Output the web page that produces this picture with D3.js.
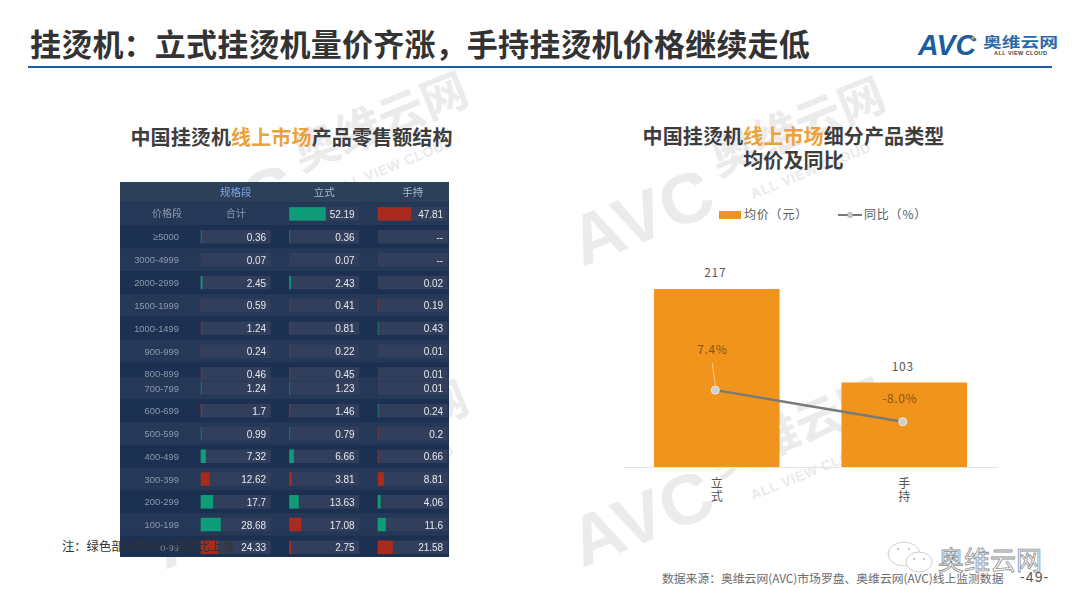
<!DOCTYPE html>
<html>
<head>
<meta charset="utf-8">
<script src="https://cdn.jsdelivr.net/npm/d3@7"></script>
<style>
    body { margin: 0; background: white; }
    text { font-family: "Noto Sans CJK SC", "Noto Sans", sans-serif; }
</style>
</head>
<body>
<div id="chart"></div>
<script>
// Tabel: prisbånd og værdier
const tableHeader = ["规格段", "立式", "手持"];
const priceBands = ["价格段", "≥5000", "3000-4999", "2000-2999", "1500-1999", "1000-1499", "900-999", "800-899",
    "700-799", "600-699", "500-599", "400-499", "300-399", "200-299", "100-199", "0-99"];
const totalValues = [null, 0.36, 0.07, 2.45, 0.59, 1.24, 0.24, 0.46, 1.24, 1.7, 0.99, 7.32, 12.62, 17.7, 28.68, 24.33];
const standingValues = [52.19, 0.36, 0.07, 2.43, 0.41, 0.81, 0.22, 0.45, 1.23, 1.46, 0.79, 6.66, 3.81, 13.63, 17.08, 2.75];
const handheldValues = [47.81, null, null, 0.02, 0.19, 0.43, 0.01, 0.01, 0.01, 0.24, 0.2, 0.66, 8.81, 4.06, 11.6, 21.58];
// u = grøn (op), d = rød (ned), n = ingen farve
const totalTrend = ["n", "u", "n", "u", "d", "d", "d", "d", "u", "d", "u", "u", "d", "u", "u", "d"];
const standingTrend = ["u", "u", "n", "u", "d", "d", "d", "d", "u", "d", "u", "u", "d", "u", "d", "d"];
const handheldTrend = ["d", "n", "n", "n", "d", "u", "n", "n", "n", "u", "d", "d", "d", "u", "u", "d"];

// Søjler og linje til højre
const productTypes = ["立式", "手持"];
const avgPrices = [217, 103];
const yoyChanges = [7.4, -8.0];

const svg = d3.select("#chart")
    .append("svg")
    .attr("width", 1080)
    .attr("height", 608);

// Vandmærker bagerst
function drawWatermark(x, y) {
    const g = svg.append("g")
        .attr("transform", `translate(${x},${y}) rotate(-22)`)
        .attr("fill", "#ebebeb");
    g.append("text").text("AVC")
        .attr("font-size", 70).attr("font-weight", 700)
        .attr("textLength", 148).attr("lengthAdjust", "spacingAndGlyphs")
        .style("font-family", "Liberation Sans");
    g.append("circle").attr("cx", 137).attr("cy", -40).attr("r", 5.5);
    g.append("text").text("奥维云网")
        .attr("x", 160).attr("y", -33)
        .attr("font-size", 46).attr("font-weight", 700);
    g.append("text").text("ALL VIEW CLOUD")
        .attr("x", 184).attr("y", 1)
        .attr("font-size", 14).attr("font-weight", 700)
        .attr("textLength", 128)
        .style("font-family", "Liberation Sans");
}
drawWatermark(582, 267);
drawWatermark(582, 568);
drawWatermark(165, 262);
drawWatermark(165, 570);

// Titel og logo
svg.append("text").text("挂烫机：立式挂烫机量价齐涨，手持挂烫机价格继续走低")
    .attr("x", 30).attr("y", 56)
    .attr("font-size", 31).attr("letter-spacing", 0.2).attr("font-weight", 700).attr("fill", "#333333");
svg.append("line")
    .attr("x1", 28).attr("x2", 1052).attr("y1", 67).attr("y2", 67)
    .attr("stroke", "#1b5e9f").attr("stroke-width", 2);
svg.append("text").text("AVC")
    .attr("x", 918).attr("y", 55)
    .attr("font-size", 29).attr("font-weight", 700).attr("font-style", "italic").attr("fill", "#1b5e9f")
    .attr("textLength", 58).attr("lengthAdjust", "spacingAndGlyphs")
    .style("font-family", "Liberation Sans");
svg.append("circle").attr("cx", 973).attr("cy", 38).attr("r", 1.6).attr("fill", "#f0a030");
svg.append("text").text("奥维云网")
    .attr("x", 983).attr("y", 46.5)
    .attr("font-size", 14).attr("font-weight", 700).attr("fill", "#2a6aa8")
    .attr("textLength", 75).attr("lengthAdjust", "spacingAndGlyphs");
svg.append("text").text("ALL VIEW CLOUD")
    .attr("x", 994).attr("y", 55)
    .attr("font-size", 5.5).attr("font-weight", 700).attr("fill", "#444444")
    .attr("textLength", 53)
    .style("font-family", "Liberation Sans");

// Undertitler med orange fremhævning
function drawTitle(parts, x, y) {
    const t = svg.append("text")
        .attr("x", x).attr("y", y)
        .attr("text-anchor", "middle")
        .attr("font-size", 20).attr("letter-spacing", 0.13).attr("font-weight", 700).attr("fill", "#3d3d3d");
    parts.forEach(function (p, i) {
        t.append("tspan").text(p).attr("fill", i == 1 ? "#eba23a" : "#3d3d3d");
    });
}
drawTitle(["中国挂烫机", "线上市场", "产品零售额结构"], 291.5, 145);
drawTitle(["中国挂烫机", "线上市场", "细分产品类型"], 793.5, 144);
drawTitle(["均价及同比"], 793.5, 168);

// ---- Tabellen ----
// Tabellen er to sammensatte billeder, så 700-799 starter en ny rytme
const splitAt = priceBands.indexOf("700-799");
const yUpper = d3.scaleBand().domain(priceBands.slice(0, splitAt)).range([202.5, 385.4]);
const yLower = d3.scaleBand().domain(priceBands.slice(splitAt)).range([376.6, 558.6]);
const rowY = band => priceBands.indexOf(band) < splitAt ? yUpper(band) : yLower(band);
const rowStep = yUpper.bandwidth();

const columnKeys = ["total", "standing", "handheld"];
const columnX = d3.scaleBand().domain(columnKeys).range([200.7, 447.7]).paddingInner(0.209);
const shareX = d3.scaleLinear().domain([0, 100]).range([0, columnX.bandwidth()]);
const columns = {
    total: { values: totalValues, trend: totalTrend },
    standing: { values: standingValues, trend: standingTrend },
    handheld: { values: handheldValues, trend: handheldTrend }
};

svg.append("clipPath").attr("id", "tableClip")
    .append("rect").attr("x", 120).attr("y", 182).attr("width", 329).attr("height", 375);
const table = svg.append("g")
    .attr("clip-path", "url(#tableClip)")
    .style("filter", "blur(0.4px)");

table.append("rect")
    .attr("x", 120).attr("y", 182).attr("width", 329).attr("height", 375)
    .attr("fill", "#1e3252");
table.append("rect")
    .attr("x", 120).attr("y", 182).attr("width", 329).attr("height", 20)
    .attr("fill", "#2d4059");

table.selectAll(".rowBg")
    .data(priceBands)
    .enter()
    .append("rect")
    .attr("class", "rowBg")
    .attr("x", 120)
    .attr("y", d => rowY(d))
    .attr("width", 329)
    .attr("height", rowStep)
    .attr("fill", (d, i) => i % 2 == 0 ? "#253857" : "#1c3051");

table.selectAll(".headerLabel")
    .data(tableHeader)
    .enter()
    .append("text")
    .attr("class", "headerLabel")
    .attr("x", (d, i) => columnX(columnKeys[i]) + columnX.bandwidth() / 2)
    .attr("y", 196)
    .attr("text-anchor", "middle")
    .attr("font-size", 10.5)
    .attr("fill", (d, i) => i == 0 ? "#7fa6e6" : "#a9b8cc")
    .text(d => d);

table.selectAll(".bandLabel")
    .data(priceBands)
    .enter()
    .append("text")
    .attr("class", "bandLabel")
    .attr("x", (d, i) => i == 0 ? 182 : 179)
    .attr("y", d => rowY(d) + rowStep / 2 + 3.5)
    .attr("text-anchor", "end")
    .attr("font-size", (d, i) => i == 0 ? 10 : 9.4)
    .attr("fill", "#8d99ad")
    .style("font-family", (d, i) => i == 0 ? null : "Liberation Sans")
    .text(d => d);

const trackHeight = 13.5;
columnKeys.forEach(function (key) {
    const col = columns[key];
    priceBands.forEach(function (band, i) {
        if (key == "total" && i == 0) {
            table.append("text").text("合计")
                .attr("x", columnX(key) + columnX.bandwidth() / 2)
                .attr("y", rowY(band) + rowStep / 2 + 3.5)
                .attr("text-anchor", "middle")
                .attr("font-size", 10)
                .attr("fill", "#8d99ad");
            return;
        }
        const top = rowY(band) + (rowStep - trackHeight) / 2;
        table.append("rect")
            .attr("x", columnX(key)).attr("y", top)
            .attr("width", columnX.bandwidth()).attr("height", trackHeight)
            .attr("fill", "#323f5c");
        if (col.trend[i] != "n") {
            const w = shareX(col.values[i]);
            table.append("rect")
                .attr("x", columnX(key)).attr("y", top)
                .attr("width", Math.max(1, w)).attr("height", trackHeight)
                .attr("fill", col.trend[i] == "u" ? "#0f9c78" : "#a92b1e")
                .attr("opacity", w < 1 ? 0.6 : 1);
        }
        table.append("text")
            .attr("x", columnX(key) + columnX.bandwidth() - 4.5)
            .attr("y", rowY(band) + rowStep / 2 + 4)
            .attr("text-anchor", "end")
            .attr("font-size", 10)
            .attr("fill", "#e6e9ee")
            .style("font-family", "Liberation Sans")
            .text(col.values[i] == null ? "--" : col.values[i]);
    });
});

svg.append("text").text("注：绿色部分表示价格同比上涨")
    .attr("x", 62).attr("y", 551)
    .attr("font-size", 12.3).attr("fill", "#333333");

// ---- Søjlediagram ----
const x = d3.scaleBand()
    .domain(productTypes)
    .range([623, 998])
    .paddingInner(0.33)
    .paddingOuter(0.165);
const y = d3.scaleLinear().domain([0, 217]).range([467, 289]);
const yLine = d3.scaleLinear().domain([-30, 60]).range([467, 282]);
const dotX = d => x(d) + x.bandwidth() / 2 - 1.5;

svg.selectAll(".bar")
    .data(productTypes)
    .enter()
    .append("rect")
    .attr("class", "bar")
    .attr("x", d => x(d))
    .attr("y", (d, i) => y(avgPrices[i]))
    .attr("width", x.bandwidth())
    .attr("height", (d, i) => y(0) - y(avgPrices[i]))
    .attr("fill", "#f0941c");

const xAxis = svg.append("g")
    .attr("transform", "translate(0,467)")
    .call(d3.axisBottom(x).tickSize(0).tickFormat(""));
xAxis.select(".domain").attr("stroke", "#e3e3e3");
xAxis.selectAll(".tick text").each(function (d) {
    const label = d3.select(this);
    Array.from(d).forEach(function (ch, i) {
        label.append("tspan").text(ch).attr("x", 0).attr("dy", i == 0 ? 18 : 12.5);
    });
}).attr("font-size", 12).attr("fill", "#555555")
    .style("font-family", "Noto Sans CJK SC");

svg.selectAll(".barLabel")
    .data(productTypes)
    .enter()
    .append("text")
    .attr("class", "barLabel")
    .attr("x", d => dotX(d))
    .attr("y", (d, i) => y(avgPrices[i]) - 12)
    .attr("text-anchor", "middle")
    .attr("font-size", 12)
    .attr("letter-spacing", 0.6)
    .attr("fill", "#595959")
    .text((d, i) => avgPrices[i]);

// Linjen oven på søjlerne
const line = d3.line()
    .x(d => dotX(d))
    .y(d => yLine(yoyChanges[productTypes.indexOf(d)]));
svg.append("path")
    .datum(productTypes)
    .attr("d", line)
    .attr("fill", "none")
    .attr("stroke", "#7a7a78")
    .attr("stroke-width", 2.5);

// Ledelinje ned til første punkt
svg.append("line")
    .attr("x1", dotX("立式") - 3)
    .attr("y1", yLine(yoyChanges[0]) - 27)
    .attr("x2", dotX("立式"))
    .attr("y2", yLine(yoyChanges[0]) - 5)
    .attr("stroke", "#f6c98a").attr("stroke-width", 1);

svg.selectAll(".dot")
    .data(productTypes)
    .enter()
    .append("circle")
    .attr("class", "dot")
    .attr("cx", d => dotX(d))
    .attr("cy", (d, i) => yLine(yoyChanges[i]))
    .attr("r", 4)
    .attr("fill", "#cfcfcf")
    .attr("stroke", "#ececec")
    .attr("stroke-width", 1);

svg.selectAll(".yoyLabel")
    .data(productTypes)
    .enter()
    .append("text")
    .attr("class", "yoyLabel")
    .attr("x", d => dotX(d) - 3)
    .attr("y", (d, i) => yLine(yoyChanges[i]) + (i == 0 ? -36 : -19))
    .attr("text-anchor", "middle")
    .attr("font-size", 12)
    .attr("letter-spacing", 0.6)
    .attr("fill", "#8a5512")
    .text((d, i) => yoyChanges[i].toFixed(1) + "%");

// Forklaring
svg.append("rect").attr("x", 719).attr("y", 211).attr("width", 22).attr("height", 8).attr("fill", "#f0941c");
svg.append("text").text("均价（元）")
    .attr("x", 744).attr("y", 218.5)
    .attr("font-size", 12).attr("letter-spacing", 0.8).attr("fill", "#595959");
svg.append("line").attr("x1", 838).attr("x2", 862).attr("y1", 215).attr("y2", 215)
    .attr("stroke", "#7a7a78").attr("stroke-width", 2);
svg.append("circle").attr("cx", 850).attr("cy", 215).attr("r", 2.5)
    .attr("fill", "#cfcfcf").attr("stroke", "#8a8a8a").attr("stroke-width", 0.6);
svg.append("text").text("同比（%）")
    .attr("x", 864).attr("y", 218.5)
    .attr("font-size", 12).attr("letter-spacing", 0.8).attr("fill", "#595959");

// WeChat-mærke og kilde nederst
const wechat = svg.append("g").attr("fill", "white").attr("stroke", "#cfcfcf").attr("stroke-width", 1);
wechat.append("ellipse").attr("cx", 904).attr("cy", 554).attr("rx", 16).attr("ry", 12);
wechat.append("ellipse").attr("cx", 919).attr("cy", 562).attr("rx", 13).attr("ry", 10);
svg.selectAll(".eye")
    .data([[898, 549], [909, 549], [914, 559], [924, 559]])
    .enter()
    .append("circle")
    .attr("class", "eye")
    .attr("cx", d => d[0]).attr("cy", d => d[1])
    .attr("r", 1).attr("fill", "#b5b5b5");
svg.append("text").text("奥维云网")
    .attr("x", 938).attr("y", 570)
    .attr("font-size", 26)
    .attr("fill", "white").attr("stroke", "#8f8f8f").attr("stroke-width", 0.8);
svg.append("text").text("数据来源：奥维云网(AVC)市场罗盘、奥维云网(AVC)线上监测数据")
    .attr("x", 662).attr("y", 583)
    .attr("font-size", 11.8).attr("fill", "#6b6b6b");
svg.append("text").text("-49-")
    .attr("x", 1020).attr("y", 582)
    .attr("font-size", 14).attr("letter-spacing", 1.1).attr("fill", "#555555")
    .style("font-family", "Liberation Sans");
</script>
</body>
</html>
